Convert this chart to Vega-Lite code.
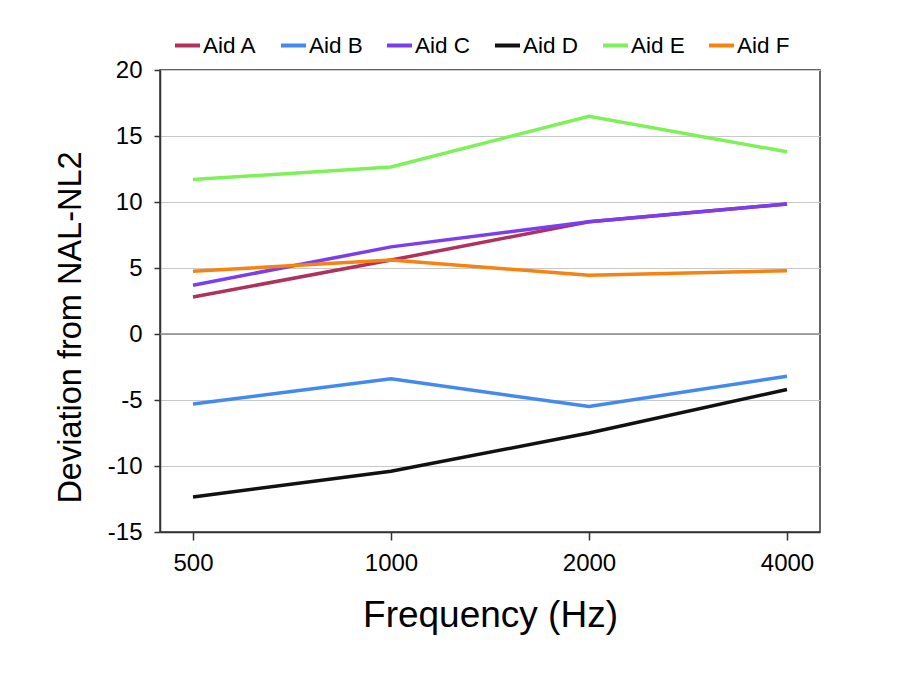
{
  "$schema": "https://vega.github.io/schema/vega-lite/v6.json",
  "width": 660,
  "height": 462,
  "autosize": "none",
  "padding": {"left": 160, "top": 70, "right": 102, "bottom": 145},
  "background": "white",
  "config": {
    "font": "Liberation Sans",
    "view": {"stroke": "#333333", "strokeWidth": 1.5},
    "axis": {"labelColor": "#000000", "titleColor": "#000000", "titleFontWeight": "normal", "domainColor": "#333333", "tickColor": "#333333", "domainWidth": 1.5, "tickWidth": 1.5}
  },
  "datasets": {
    "series": [
      {"aid": "Aid A", "freq": "500", "value": 2.8},
      {"aid": "Aid A", "freq": "1000", "value": 5.6},
      {"aid": "Aid A", "freq": "2000", "value": 8.5},
      {"aid": "Aid A", "freq": "4000", "value": 9.85},
      {"aid": "Aid B", "freq": "500", "value": -5.3},
      {"aid": "Aid B", "freq": "1000", "value": -3.4},
      {"aid": "Aid B", "freq": "2000", "value": -5.5},
      {"aid": "Aid B", "freq": "4000", "value": -3.2},
      {"aid": "Aid C", "freq": "500", "value": 3.7},
      {"aid": "Aid C", "freq": "1000", "value": 6.6},
      {"aid": "Aid C", "freq": "2000", "value": 8.5},
      {"aid": "Aid C", "freq": "4000", "value": 9.85},
      {"aid": "Aid D", "freq": "500", "value": -12.35},
      {"aid": "Aid D", "freq": "1000", "value": -10.4},
      {"aid": "Aid D", "freq": "2000", "value": -7.5},
      {"aid": "Aid D", "freq": "4000", "value": -4.2},
      {"aid": "Aid E", "freq": "500", "value": 11.7},
      {"aid": "Aid E", "freq": "1000", "value": 12.65},
      {"aid": "Aid E", "freq": "2000", "value": 16.5},
      {"aid": "Aid E", "freq": "4000", "value": 13.8},
      {"aid": "Aid F", "freq": "500", "value": 4.75},
      {"aid": "Aid F", "freq": "1000", "value": 5.6},
      {"aid": "Aid F", "freq": "2000", "value": 4.45},
      {"aid": "Aid F", "freq": "4000", "value": 4.8}
    ],
    "zero": [{"v": 0}]
  },
  "layer": [
    {
      "data": {"name": "zero"},
      "mark": {"type": "rule", "color": "#8a8a8a", "strokeWidth": 1.5},
      "encoding": {"y": {"field": "v", "type": "quantitative", "scale": {"domain": [-15, 20]}}}
    },
    {
      "data": {"name": "series"},
      "mark": {"type": "line", "strokeWidth": 3.5},
      "encoding": {
        "x": {
          "field": "freq", "type": "ordinal", "sort": ["500", "1000", "2000", "4000"],
          "scale": {"type": "point", "padding": 0.1667},
          "axis": {"title": "Frequency (Hz)", "titleFontSize": 37, "titlePadding": 22, "labelFontSize": 24, "labelPadding": 11, "tickSize": 8, "labelAngle": 0, "grid": false}
        },
        "y": {
          "field": "value", "type": "quantitative",
          "scale": {"domain": [-15, 20], "nice": false, "zero": false},
          "axis": {"title": "Deviation from NAL-NL2", "titleFontSize": 32.5, "titlePadding": 20, "titleY": 257, "labelFontSize": 24, "labelPadding": 12, "tickSize": 6, "values": [-15, -10, -5, 0, 5, 10, 15, 20], "labelExpr": "'' + datum.value", "grid": true, "gridColor": "#c8c8c8", "gridWidth": 1.2}
        },
        "color": {
          "field": "aid", "type": "nominal",
          "scale": {"domain": ["Aid A", "Aid B", "Aid C", "Aid D", "Aid E", "Aid F"], "range": ["#b0305e", "#4289f2", "#7a3ef0", "#111111", "#7cf257", "#f7820f"]},
          "legend": {"title": null, "orient": "none", "legendX": 13, "legendY": -39, "direction": "horizontal", "symbolType": "stroke", "symbolSize": 625, "symbolStrokeWidth": 4, "labelFontSize": 22.5, "labelOffset": 1, "columnPadding": 16, "labelColor": "#000000"}
        }
      }
    }
  ]
}
